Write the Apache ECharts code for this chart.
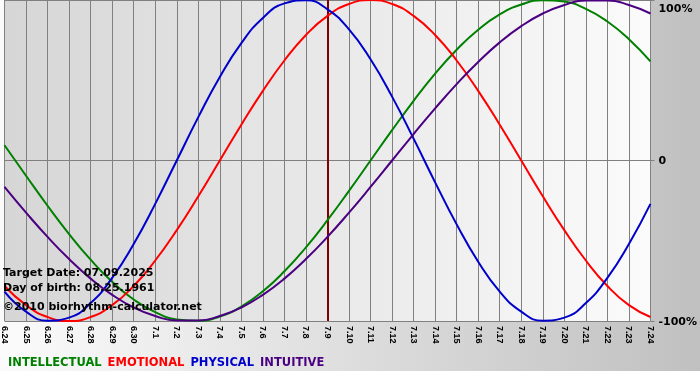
<!DOCTYPE html>
<html>
<head>
<meta charset="utf-8">
<script src="https://cdn.jsdelivr.net/npm/echarts@6/dist/echarts.min.js"></script>
<style>
html,body{margin:0;padding:0;}
body{width:700px;height:380px;background:#ffffff;}
#bg{position:absolute;left:0;top:0;width:700px;height:371px;background:linear-gradient(to right,#fbfbfb,#c0c0c0);}
#chart{position:absolute;left:0;top:0;width:700px;height:380px;}
</style>
</head>
<body>
<div id="bg"></div>
<div id="chart"></div>
<script>
// ---- data ----
var days = ['6.24','6.25','6.26','6.27','6.28','6.29','6.30','7.1','7.2','7.3','7.4','7.5','7.6','7.7','7.8','7.9','7.10','7.11','7.12','7.13','7.14','7.15','7.16','7.17','7.18','7.19','7.20','7.21','7.22','7.23','7.24'];
var intellectual = [0.095,-0.095,-0.282,-0.458,-0.618,-0.756,-0.866,-0.945,-0.990,-0.999,-0.972,-0.910,-0.815,-0.690,-0.541,-0.372,-0.189,0,0.189,0.372,0.541,0.690,0.815,0.910,0.972,0.999,0.990,0.945,0.866,0.756,0.618];
var emotional = [-0.782,-0.901,-0.975,-1,-0.975,-0.901,-0.782,-0.623,-0.434,-0.223,0,0.223,0.434,0.623,0.782,0.901,0.975,1,0.975,0.901,0.782,0.623,0.434,0.223,0,-0.223,-0.434,-0.623,-0.782,-0.901,-0.975];
var physical = [-0.817,-0.942,-0.998,-0.979,-0.888,-0.731,-0.520,-0.270,0,0.270,0.520,0.731,0.888,0.979,0.998,0.942,0.817,0.631,0.398,0.136,-0.136,-0.398,-0.631,-0.817,-0.942,-0.998,-0.979,-0.888,-0.731,-0.520,-0.270];
var intuitive = [-0.165,-0.325,-0.476,-0.614,-0.736,-0.837,-0.916,-0.969,-0.997,-0.997,-0.969,-0.916,-0.837,-0.736,-0.614,-0.476,-0.325,-0.165,0,0.165,0.325,0.476,0.614,0.736,0.837,0.916,0.969,0.997,0.997,0.969,0.916];
var seriesNames = ['INTELLECTUAL','EMOTIONAL','PHYSICAL','INTUITIVE'];
var seriesColors = ['#008000','#ff0000','#0000cc','#4b0082'];
var yTickLabels = {'-1':'-100%','0':'0','1':'100%'};
var targetDay = '7.9';
var infoLines = ['Target Date: 07.09.2025','Day of birth: 08.25.1961','\u00a92010 biorhythm-calculator.net'];

var chart = echarts.init(document.getElementById('chart'), null, {renderer:'canvas'});
var values = [intellectual, emotional, physical, intuitive];
var FONT = 'DejaVu Sans';

var series = values.map(function(v, i){
  return {
    name: seriesNames[i], type:'line', data:v, smooth:true, symbol:'none',
    lineStyle:{color:seriesColors[i], width:2}, itemStyle:{color:seriesColors[i]},
    emphasis:{disabled:true}, z:3
  };
});
series[0].markLine = {
  symbol:['none','none'], silent:true, label:{show:false},
  lineStyle:{color:'#800000', width:2, type:'solid'},
  data:[{xAxis: targetDay}], z:2, animation:false
};

var option = {
  animation:false,
  backgroundColor:'transparent',
  grid:{left:0, right:49, top:0, bottom:59, show:true, borderWidth:0,
    backgroundColor:new echarts.graphic.LinearGradient(0,0,1,0,[{offset:0,color:'#d6d6d6'},{offset:1,color:'#fbfbfb'}])},
  xAxis:{
    type:'category', data:days, boundaryGap:false,
    axisLine:{show:true, lineStyle:{color:'#808080', width:1}},
    axisTick:{show:true, length:4, lineStyle:{color:'#808080'}},
    splitLine:{show:true, lineStyle:{color:'#808080', width:1}},
    axisLabel:{rotate:-90, interval:0, margin:5, color:'#000', fontFamily:'Liberation Sans', fontWeight:'bold', fontSize:9}
  },
  yAxis:{
    type:'value', min:-1, max:1, interval:1, position:'right',
    axisLine:{show:false},
    axisTick:{show:true, length:4, lineStyle:{color:'#808080'}},
    splitLine:{show:true, lineStyle:{color:'#808080', width:1}},
    axisLabel:{margin:8, color:'#000', fontFamily:FONT, fontWeight:'bold', fontSize:11,
      formatter:function(v){ var t = yTickLabels[String(v)]; return v===1 ? '{top|'+t+'}' : '{n|'+t+'}'; },
      rich:{
        top:{padding:[18,0,0,0], fontFamily:FONT, fontWeight:'bold', fontSize:11, color:'#000'},
        n:{fontFamily:FONT, fontWeight:'bold', fontSize:11, color:'#000', padding:[2,0,0,0]}
      }}
  },
  legend:{
    left:-2, top:352, icon:'none', itemWidth:0, itemHeight:10, itemGap:1, selectedMode:false,
    data:seriesNames.map(function(n,i){ return {name:n, textStyle:{color:seriesColors[i], fontFamily:FONT, fontWeight:'bold', fontSize:11.5}}; })
  },
  graphic:infoLines.map(function(t,i){
    return {type:'text', left:3, top:[268,283,302][i], z:10, silent:true,
      style:{text:t, fill:'#000', font:'bold 11px "DejaVu Sans"'}};
  }),
  series:series
};
chart.setOption(option);
</script>
</body>
</html>
